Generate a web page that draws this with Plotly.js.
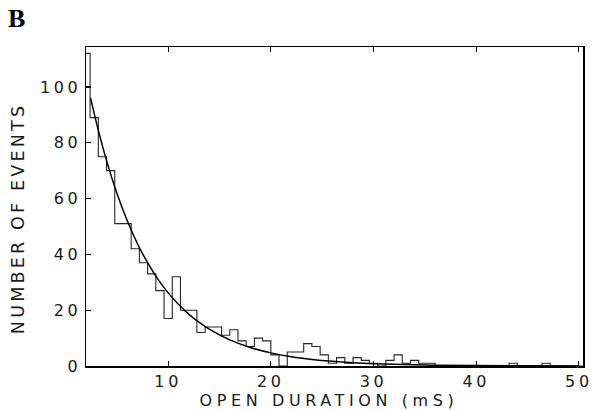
<!DOCTYPE html>
<html>
<head>
<meta charset="utf-8">
<script src="https://cdn.plot.ly/plotly-3.0.1.min.js"></script>
<style>
  html, body { margin: 0; padding: 0; background: #fff; }
  #chart { width: 596px; height: 411px; }
  #chart .xtick text, #chart .ytick text { letter-spacing: 3.6px; }
  #chart g.annotation[data-index="1"] text { letter-spacing: 4.6px; }
  #chart g.annotation[data-index="2"] text { letter-spacing: 3.2px; }
</style>
</head>
<body>
<div id="chart"></div>
<script>
// Histogram bin left edges (ms) and counts
const binEdges = [1.6, 2.4, 3.2, 4.0, 4.8, 5.6, 6.4, 7.2, 8.0, 8.8, 9.6, 10.4, 11.2, 12.0, 12.8, 13.6, 14.4, 15.2, 16.0, 16.8,
  17.6, 18.4, 19.2, 20.0, 20.8, 21.6, 22.4, 23.2, 24.0, 24.8, 25.6, 26.4, 27.2, 28.0, 28.8, 29.6, 30.4, 31.2, 32.0, 32.8,
  33.6, 34.4, 35.2, 36.0, 36.8, 37.6, 38.4, 39.2, 40.0, 40.8, 41.6, 42.4, 43.2, 44.0, 44.8, 45.6, 46.4, 47.2, 48.0, 48.8,
  49.6, 50.4];
const counts = [112, 89, 75, 70, 51, 51, 42, 37, 33, 27, 17, 32, 20, 20, 12, 14, 14, 11, 13, 9,
  7, 10, 9, 4, 0, 5, 5, 8, 7, 4, 1, 3, 1, 3, 2, 1, 0, 2, 4, 1,
  2, 1, 1, 0, 0, 0, 0, 0, 0, 0, 0, 0, 1, 0, 0, 0, 1, 0, 0, 0,
  0];

// Fitted exponential curve
const fitX = [2.45, 3, 4, 5, 6, 7, 8, 9, 10, 11, 12, 13, 14, 16, 18, 20, 22, 24, 26, 28, 30, 33, 36, 40, 45, 50];
const fitY = [96.0, 87.4, 73.6, 62.0, 52.2, 43.9, 37.0, 31.1, 26.2, 22.1, 18.6, 15.7, 13.2, 9.35, 6.63, 4.70, 3.33, 2.36, 1.67, 1.18, 0.84, 0.50, 0.30, 0.15, 0.06, 0.03];

const xTicks = [10, 20, 30, 40, 50];
const yTicks = [0, 20, 40, 60, 80, 100];

const panelLabel = 'B';
const xTitle = 'OPEN DURATION (mS)';
const yTitle = 'NUMBER OF EVENTS';

// step outline: repeat last count for the closing right edge
const stepY = counts.concat([counts[counts.length - 1]]);

const traces = [
  {
    x: binEdges, y: stepY, type: 'scatter', mode: 'lines',
    line: { shape: 'hv', color: '#262626', width: 1.1 },
    hoverinfo: 'skip', showlegend: false
  },
  {
    x: fitX, y: fitY, type: 'scatter', mode: 'lines',
    line: { shape: 'spline', color: '#000', width: 1.5 },
    hoverinfo: 'skip', showlegend: false
  }
];

const tickFont = { family: 'DejaVu Sans, sans-serif', size: 16, color: '#1a1a1a' };
const xTitleFont = { family: 'DejaVu Sans, sans-serif', size: 16, color: '#1a1a1a' };
const yTitleFont = { family: 'DejaVu Sans, sans-serif', size: 17.5, color: '#1a1a1a' };

const layout = {
  width: 596, height: 411,
  margin: { l: 86, r: 13, t: 47, b: 45 },
  paper_bgcolor: '#fff', plot_bgcolor: '#fff',
  showlegend: false,
  xaxis: {
    range: [2.0, 50.4], tickvals: xTicks, ticktext: xTicks.map(String),
    ticks: 'inside', ticklen: 5, tickwidth: 1.2, tickcolor: '#000',
    showline: true, linecolor: '#000', linewidth: 1.5, mirror: 'ticks',
    showgrid: false, zeroline: false,
    tickfont: tickFont, ticklabelstandoff: 0
  },
  yaxis: {
    range: [0, 114.3], tickvals: yTicks, ticktext: yTicks.map(String),
    ticks: 'inside', ticklen: 5, tickwidth: 1.2, tickcolor: '#000',
    showline: true, linecolor: '#000', linewidth: 1.5, mirror: true,
    showgrid: false, zeroline: false,
    tickfont: tickFont, ticklabelstandoff: 0
  },
  annotations: [
    { text: '<b>' + panelLabel + '</b>', xref: 'paper', yref: 'paper', x: -0.16, y: 1.14, xanchor: 'left', yanchor: 'top',
      showarrow: false, font: { family: 'Liberation Serif, Times New Roman, serif', size: 26, color: '#000' } },
    { text: xTitle, xref: 'paper', yref: 'paper', x: 0.489, y: -0.1075, xanchor: 'center', yanchor: 'middle',
      showarrow: false, font: xTitleFont },
    { text: yTitle, xref: 'paper', yref: 'paper', x: -0.137, y: 0.462, xanchor: 'center', yanchor: 'middle',
      textangle: -90, showarrow: false, font: yTitleFont }
  ]
};

Plotly.newPlot('chart', traces, layout, { displayModeBar: false, staticPlot: true });
</script>
</body>
</html>
